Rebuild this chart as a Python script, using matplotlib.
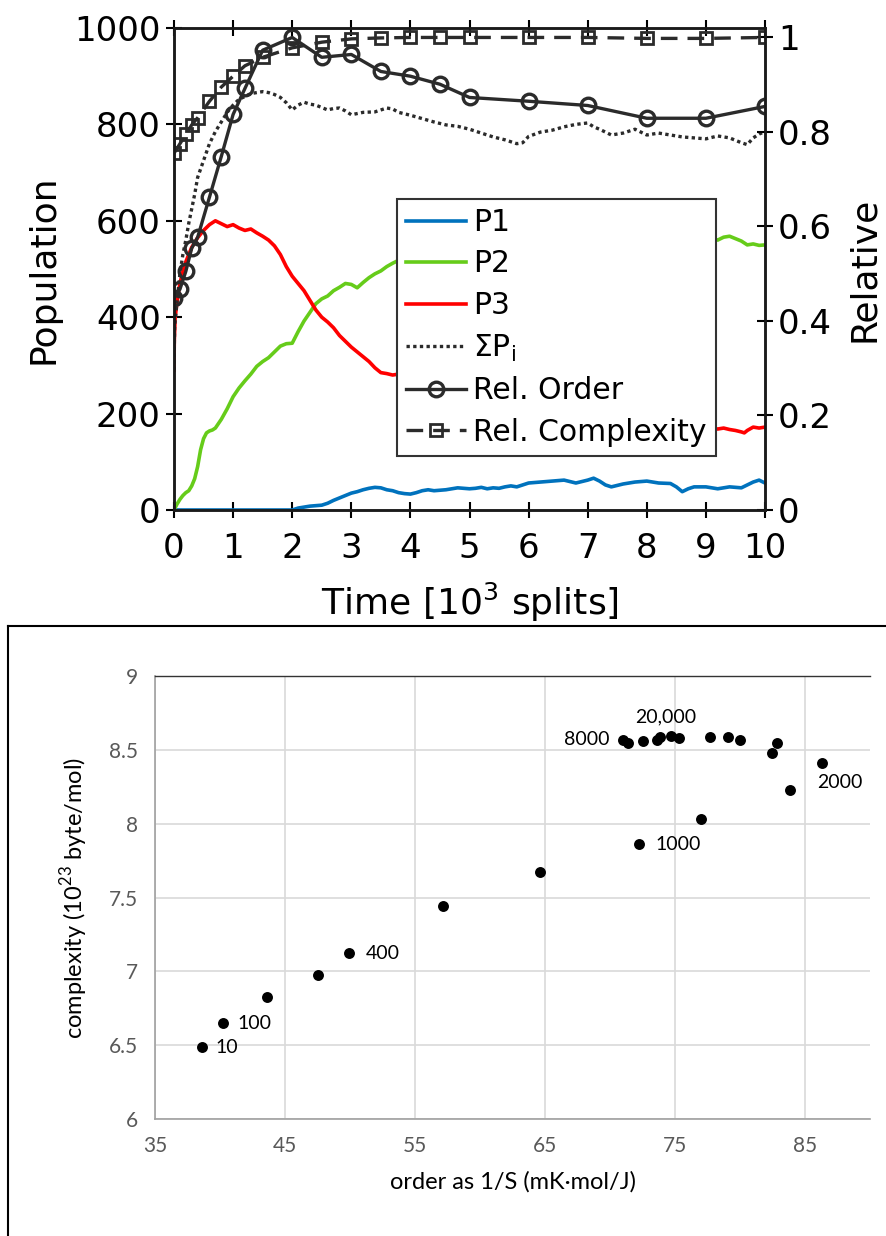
import matplotlib
matplotlib.use("Agg")
import matplotlib.pyplot as plt
from matplotlib.lines import Line2D

# ---------------- top panel data ----------------
t_p1 = [0, 2.0, 2.1, 2.2, 2.3, 2.4, 2.5, 2.6, 2.7, 2.8, 2.9, 3.0, 3.1, 3.2, 3.3, 3.4, 3.5, 3.6,
        3.7, 3.8, 3.9, 4.0, 4.1, 4.2, 4.3, 4.4, 4.5, 4.6, 4.7, 4.8, 4.9, 5.0, 5.1, 5.2, 5.3, 5.4,
        5.5, 5.6, 5.7, 5.8, 5.9, 6.0, 6.2, 6.4, 6.6, 6.8, 7.0, 7.1, 7.2, 7.3, 7.4, 7.6, 7.8, 8.0,
        8.2, 8.4, 8.5, 8.6, 8.7, 8.8, 9.0, 9.2, 9.4, 9.6, 9.8, 9.9, 10.0]
p1 = [0, 0, 4, 6, 8, 9, 10, 14, 20, 25, 30, 35, 38, 42, 45, 47, 46, 42,
      40, 36, 34, 33, 36, 40, 42, 40, 41, 42, 44, 46, 45, 44, 45, 47, 44, 46,
      45, 48, 50, 48, 52, 56, 58, 60, 62, 56, 62, 66, 60, 52, 48, 54, 58, 60,
      56, 55, 48, 38, 44, 48, 48, 44, 48, 46, 58, 62, 56]

t_p2 = [0, 0.05, 0.1, 0.15, 0.2, 0.25, 0.3, 0.35, 0.4, 0.45, 0.5, 0.55, 0.6, 0.65, 0.7, 0.8, 0.9,
        1.0, 1.1, 1.2, 1.3, 1.4, 1.5, 1.6, 1.7, 1.8, 1.9, 2.0, 2.05, 2.1, 2.2, 2.3, 2.4, 2.5, 2.6,
        2.7, 2.8, 2.9, 3.0, 3.1, 3.2, 3.3, 3.4, 3.5, 3.6, 3.7, 3.8, 4.0, 4.5, 5.0, 5.5, 6.0, 6.5,
        7.0, 7.5, 8.0, 8.5, 9.0, 9.1, 9.2, 9.3, 9.4, 9.5, 9.6, 9.7, 9.8, 9.9, 10.0]
p2 = [0, 12, 22, 30, 36, 40, 50, 65, 90, 125, 148, 160, 164, 166, 170, 188, 210,
      235, 253, 268, 282, 298, 308, 316, 328, 340, 345, 346, 358, 370, 392, 410, 428, 438, 444,
      455, 462, 470, 468, 461, 472, 482, 490, 496, 505, 512, 518, 525, 535, 540, 545, 548, 552,
      555, 558, 560, 562, 563, 564, 560, 566, 568, 563, 558, 550, 552, 549, 550]

t_p3 = [0, 0.005, 0.02, 0.05, 0.1, 0.15, 0.2, 0.3, 0.4, 0.5, 0.6, 0.7, 0.8, 0.9, 1.0, 1.1, 1.2,
        1.3, 1.4, 1.5, 1.6, 1.7, 1.8, 1.9, 2.0, 2.1, 2.2, 2.3, 2.4, 2.5, 2.6, 2.7, 2.8, 2.9, 3.0,
        3.1, 3.2, 3.3, 3.4, 3.5, 3.6, 3.7, 3.8, 4.0, 4.5, 5.0, 5.5, 6.0, 6.5, 7.0, 7.5, 8.0, 8.5,
        9.0, 9.1, 9.2, 9.3, 9.4, 9.5, 9.6, 9.65, 9.7, 9.8, 9.9, 10.0]
p3 = [290, 350, 400, 430, 470, 495, 515, 545, 565, 580, 592, 600, 594, 588, 592, 585, 580,
      583, 575, 568, 560, 548, 530, 505, 485, 470, 455, 435, 415, 400, 390, 378, 362, 350, 338,
      328, 318, 308, 295, 285, 283, 280, 282, 275, 262, 245, 228, 215, 200, 195, 185, 180, 175,
      172, 170, 168, 170, 167, 165, 162, 160, 165, 172, 170, 172]

t_sum = [0, 0.01, 0.05, 0.1, 0.15, 0.2, 0.25, 0.3, 0.35, 0.4, 0.5, 0.6, 0.7, 0.8, 0.9, 1.0, 1.1,
         1.2, 1.3, 1.4, 1.5, 1.6, 1.7, 1.8, 1.9, 2.0, 2.1, 2.2, 2.3, 2.4, 2.5, 2.6, 2.7, 2.8, 2.9,
         3.0, 3.2, 3.4, 3.6, 3.7, 3.8, 4.0, 4.2, 4.4, 4.6, 4.8, 5.0, 5.2, 5.4, 5.6, 5.8, 5.9, 6.0,
         6.2, 6.4, 6.6, 6.8, 7.0, 7.1, 7.2, 7.4, 7.6, 7.8, 8.0, 8.2, 8.4, 8.6, 8.8, 9.0, 9.2, 9.4,
         9.6, 9.7, 9.8, 9.9, 10.0]
p_sum = [290, 380, 430, 490, 530, 560, 595, 625, 655, 690, 725, 760, 785, 805, 825, 840, 852,
         858, 864, 866, 868, 866, 862, 856, 845, 830, 840, 846, 842, 840, 835, 830, 833, 834, 828,
         820, 825, 826, 834, 832, 825, 819, 812, 805, 799, 796, 790, 782, 774, 768, 760, 762, 775,
         784, 788, 795, 800, 803, 795, 790, 778, 782, 790, 778, 782, 778, 774, 772, 770, 776, 772,
         762, 758, 772, 780, 785]

t_rel = [0, 0.1, 0.2, 0.3, 0.4, 0.6, 0.8, 1.0, 1.2, 1.5, 2.0, 2.5, 3.0, 3.5, 4.0, 4.5, 5.0,
         6.0, 7.0, 8.0, 9.0, 10.0]
rel_order = [0.448, 0.467, 0.505, 0.554, 0.577, 0.662, 0.748, 0.837, 0.892, 0.973, 1.0, 0.958,
             0.964, 0.928, 0.918, 0.901, 0.873, 0.865, 0.856, 0.829, 0.829, 0.854]
rel_complexity = [0.755, 0.775, 0.795, 0.815, 0.83, 0.865, 0.895, 0.918, 0.94, 0.958, 0.978,
                  0.99, 0.997, 0.999, 1.0, 1.0, 1.0, 1.0, 1.0, 0.998, 0.998, 1.0]

x_ticks_top = [0, 1, 2, 3, 4, 5, 6, 7, 8, 9, 10]
y_ticks_left = [0, 200, 400, 600, 800, 1000]
y_ticks_right = [0, 0.2, 0.4, 0.6, 0.8, 1.0]
y_ticklabels_right = ["0", "0.2", "0.4", "0.6", "0.8", "1"]

# ---------------- bottom panel data ----------------
order_vals = [38.59, 40.26, 43.64, 47.56, 49.92, 57.18, 64.6, 71.03, 71.41, 72.56, 73.64, 73.85,
              74.67, 75.33, 77.69, 79.1, 80.0, 82.49, 82.87, 86.33, 83.85, 76.98, 72.23]
complexity_vals = [6.486, 6.65, 6.825, 6.973, 7.122, 7.443, 7.67, 8.567, 8.544, 8.562, 8.567,
                   8.589, 8.596, 8.578, 8.589, 8.589, 8.567, 8.477, 8.549, 8.409, 8.228, 8.03, 7.86]
point_labels = ["10", "100", "", "", "400", "", "", "8000", "", "", "", "20,000", "", "", "", "",
                "", "", "", "2000", "", "", "1000"]
x_ticks_bot = [35, 45, 55, 65, 75, 85]
y_ticks_bot = [6, 6.5, 7, 7.5, 8, 8.5, 9]
y_ticklabels_bot = ["6", "6.5", "7", "7.5", "8", "8.5", "9"]

# ---------------- figure ----------------
W, H = 886, 1236
fig = plt.figure(figsize=(W / 100, H / 100), dpi=100)

blue = "#0072BD"
green = "#66CC1A"
red = "#FF0000"
dark = "#2B2B2B"

ax1 = fig.add_axes([174 / W, 1 - 510 / H, (765 - 174) / W, (510 - 28) / H])
ax2 = ax1.twinx()
ax2.set_zorder(ax1.get_zorder() + 1)
ax2.patch.set_visible(False)

l1, = ax1.plot(t_p1, p1, color=blue, lw=2.6, label="P1")
l2, = ax1.plot(t_p2, p2, color=green, lw=2.6, label="P2")
l3, = ax1.plot(t_p3, p3, color=red, lw=2.6, label="P3")
l4, = ax1.plot(t_sum, p_sum, color=dark, lw=2.4, ls=(0, (1, 1)), label=r"$\Sigma$P$_\mathregular{i}$")

l5, = ax2.plot(t_rel, rel_order, color=dark, lw=2.4, marker="o", ms=10.5, mfc="none",
               mew=2.4, label="Rel. Order")
l6, = ax2.plot(t_rel, rel_complexity, color=dark, lw=2.4, ls=(0, (5, 3)), marker="s", ms=8,
               mfc="none", mew=2.0, label="Rel. Complexity")

ax1.set_xlim(0, 10)
ax1.set_ylim(0, 1000)
ax2.set_ylim(0, 1.02)
ax1.set_xticks(x_ticks_top)
ax1.set_yticks(y_ticks_left)
ax2.set_yticks(y_ticks_right)
ax2.set_yticklabels(y_ticklabels_right)

for a in (ax1, ax2):
    for s in a.spines.values():
        s.set_linewidth(1.8)
        s.set_color("#1A1A1A")
ax1.tick_params(axis="both", direction="inout", length=11, width=1.5, labelsize=24.5,
                top=True, pad=4)
ax1.tick_params(axis="x", pad=10)
ax2.tick_params(axis="y", direction="inout", length=11, width=1.5, labelsize=24.5, pad=4)

ax1.set_xlabel(r"Time [10$^\mathregular{3}$ splits]", fontsize=26, labelpad=12)
ax1.set_ylabel("Population", fontsize=26, labelpad=10)
ax2.set_ylabel("Relative", fontsize=26, labelpad=11)

leg = ax2.legend(handles=[l1, l2, l3, l4, l5, l6], loc="upper left",
                 bbox_to_anchor=((397 - 174) / (765 - 174), (510 - 199) / (510 - 28)),
                 fontsize=21.5, frameon=True, fancybox=False, framealpha=1,
                 edgecolor="#333333", handlelength=2.0, handletextpad=0.25,
                 labelspacing=0.42, borderpad=0.3, borderaxespad=0)
leg.get_frame().set_linewidth(1.5)

# ---------------- bottom panel ----------------
# frame lines around lower panel
fig.add_artist(Line2D([8 / W, 1.0], [1 - 626 / H, 1 - 626 / H], color="black", lw=1.5))
fig.add_artist(Line2D([8 / W, 8 / W], [0, 1 - 626 / H], color="black", lw=1.5))

bfont = "Lato"
axb = fig.add_axes([155 / W, 1 - 1119 / H, (870 - 155) / W, (1119 - 676) / H])
axb.scatter(order_vals, complexity_vals, s=62, color="black", zorder=3, linewidths=0)
axb.set_xlim(35, 90)
axb.set_ylim(6, 9)
axb.set_xticks(x_ticks_bot)
axb.set_yticks(y_ticks_bot)
axb.set_yticklabels(y_ticklabels_bot)
axb.grid(True, color="#D9D9D9", lw=1.2)
axb.set_axisbelow(True)
axb.tick_params(length=0, labelsize=15, labelcolor="#595959", pad=12)
for lab in axb.get_xticklabels() + axb.get_yticklabels():
    lab.set_fontfamily(bfont)
axb.spines["right"].set_visible(False)
axb.spines["top"].set_color("#333333")
axb.spines["top"].set_linewidth(1.0)
axb.spines["left"].set_color("#A0A0A0")
axb.spines["bottom"].set_color("#A0A0A0")
axb.spines["left"].set_linewidth(1.2)
axb.spines["bottom"].set_linewidth(1.2)

axb.set_xlabel("order as 1/S (mK\u00b7mol/J)", fontsize=17, family=bfont, labelpad=11)
axb.set_ylabel(r"complexity (10$^\mathregular{23}$ byte/mol)", fontsize=17, family=bfont,
               labelpad=14)

offsets = {"10": (10, 0, "left", "center"), "100": (10, 0, "left", "center"),
           "400": (12, 0, "left", "center"), "1000": (12, 0, "left", "center"),
           "8000": (-10, 0, "right", "center"), "20,000": (4, 14, "center", "center"),
           "2000": (-4, -14, "left", "center")}
for xv, yv, lab in zip(order_vals, complexity_vals, point_labels):
    if lab:
        dx, dy, ha, va = offsets[lab]
        axb.annotate(lab, (xv, yv), xytext=(dx, dy), textcoords="offset points",
                     ha=ha, va=va, fontsize=14, family=bfont, color="black")

fig.savefig("out.png", dpi=100)
